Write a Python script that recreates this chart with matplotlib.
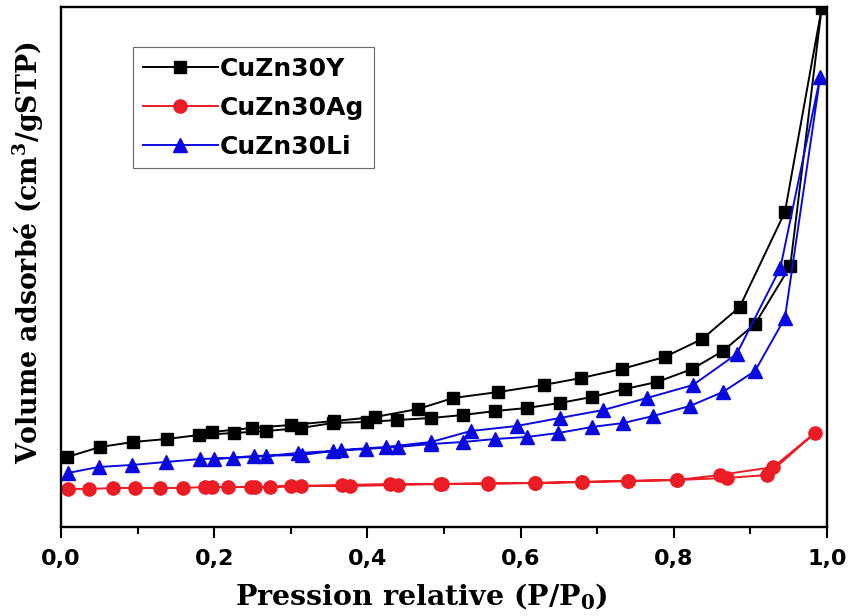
import matplotlib
matplotlib.use('Agg')
import matplotlib.pyplot as plt
import numpy as np

plt.rcParams['mathtext.fontset'] = 'dejavuserif'

# Données (unités arbitraires, axe Y sans graduation)
# CuZn30Y : adsorption puis désorption
y_ads_x = [0.008, 0.051, 0.094, 0.138, 0.180, 0.226, 0.268, 0.313, 0.355, 0.399, 0.439, 0.483,
           0.525, 0.567, 0.608, 0.651, 0.693, 0.736, 0.778, 0.824, 0.864, 0.906, 0.952, 0.993]
y_ads_v = [35, 40, 42.5, 44, 46, 47, 48, 49.5, 52, 52.5, 53.5, 54.5,
           56, 58, 59.5, 62, 65, 69, 72.5, 79, 88, 101.5, 130.5, 259.5]
y_des_x = [0.945, 0.886, 0.837, 0.788, 0.732, 0.679, 0.630, 0.571, 0.512, 0.466, 0.410,
           0.357, 0.300, 0.249, 0.197]
y_des_v = [157.5, 110, 94, 85, 79, 74.5, 71, 67.5, 64.5, 59, 55, 53, 51, 49.5, 47.5]

# CuZn30Ag
ag_ads_x = [0.009, 0.037, 0.068, 0.097, 0.129, 0.159, 0.188, 0.218, 0.248, 0.273, 0.300, 0.367,
            0.430, 0.495, 0.557, 0.619, 0.680, 0.740, 0.804, 0.869, 0.922, 0.984]
ag_ads_v = [19, 19, 19.5, 19.5, 19.5, 19.5, 20, 20, 20, 20, 20.5, 21,
            21.5, 21.5, 22, 22, 22.5, 23, 23.5, 24.5, 26, 47]
ag_des_x = [0.930, 0.860, 0.804, 0.740, 0.680, 0.619, 0.557, 0.497, 0.440, 0.377, 0.313,
            0.253, 0.197]
ag_des_v = [30, 26, 23.5, 23, 22.5, 22, 21.5, 21.5, 21, 20.5, 20.5, 20, 20]

# CuZn30Li
li_ads_x = [0.009, 0.049, 0.092, 0.137, 0.182, 0.224, 0.268, 0.309, 0.355, 0.398, 0.440, 0.483,
            0.525, 0.567, 0.608, 0.649, 0.693, 0.734, 0.773, 0.821, 0.864, 0.906, 0.945, 0.991]
li_ads_v = [27, 30, 31, 32.5, 34, 34.5, 35.5, 37, 38, 39, 40, 41.5,
            42.5, 44, 45, 47, 50, 52, 55.5, 60.5, 67.5, 78, 104.5, 225]
li_des_x = [0.939, 0.882, 0.825, 0.765, 0.708, 0.651, 0.595, 0.535, 0.483, 0.424, 0.365,
            0.314, 0.252, 0.200]
li_des_v = [129.5, 86.5, 71, 64.5, 58.5, 54.5, 50.5, 48, 42.5, 40, 38.5, 36, 35.5, 34]

labels = ['CuZn30Y', 'CuZn30Ag', 'CuZn30Li']
x_ticks = [0.0, 0.2, 0.4, 0.6, 0.8, 1.0]
x_ticklabels = ['0,0', '0,2', '0,4', '0,6', '0,8', '1,0']

fig = plt.figure(figsize=(8.5, 6.16), dpi=100)
ax = fig.add_axes([0.0718, 0.1445, 0.9012, 0.8441])

# Tracé des isothermes (adsorption + désorption en une seule courbe)
ax.plot(y_ads_x + y_des_x, y_ads_v + y_des_v, '-s', color='black', lw=1.4,
        ms=8.5, label=labels[0])
ax.plot(ag_ads_x + ag_des_x, ag_ads_v + ag_des_v, '-o', color='#ec1c24', lw=1.4,
        ms=9.5, label=labels[1])
ax.plot(li_ads_x + li_des_x, li_ads_v + li_des_v, '-^', color='#0a0ae0', lw=1.4,
        ms=9.5, label=labels[2])

ax.set_xlim(0, 1.0)
ax.set_ylim(0, 260)

# Axes
ax.set_xticks(x_ticks)
ax.set_xticklabels(x_ticklabels, fontfamily='DejaVu Sans', fontweight='bold', fontsize=16)
ax.set_xticks(np.arange(0.1, 1.0, 0.2), minor=True)
ax.set_yticks([])
ax.tick_params(axis='x', which='major', direction='out', length=8, width=1.5, pad=8)
ax.tick_params(axis='x', which='minor', direction='out', length=5, width=1.5)
for s in ax.spines.values():
    s.set_linewidth(1.7)

ax.set_xlabel(r'Pression relative (P/P$_\mathbf{0}$)', fontfamily='DejaVu Serif',
              fontweight='bold', fontsize=20.5)
ax.set_ylabel(r'Volume adsorbé (cm$^\mathbf{3}$/gSTP)', fontfamily='DejaVu Serif',
              fontweight='bold', fontsize=19.3)
ax.xaxis.set_label_coords(0.471, -0.103)
ax.yaxis.set_label_coords(-0.019, 0.527)

# Légende
leg = ax.legend(loc='upper left', bbox_to_anchor=(0.094, 0.923), frameon=True,
                fancybox=False, edgecolor='#444444', handlelength=3.0, handletextpad=0.1,
                labelspacing=0.6, borderpad=0.38, borderaxespad=0,
                prop={'family': 'DejaVu Sans', 'weight': 'bold', 'size': 18})
leg.get_frame().set_linewidth(0.8)

plt.savefig('out.png', dpi=100)
